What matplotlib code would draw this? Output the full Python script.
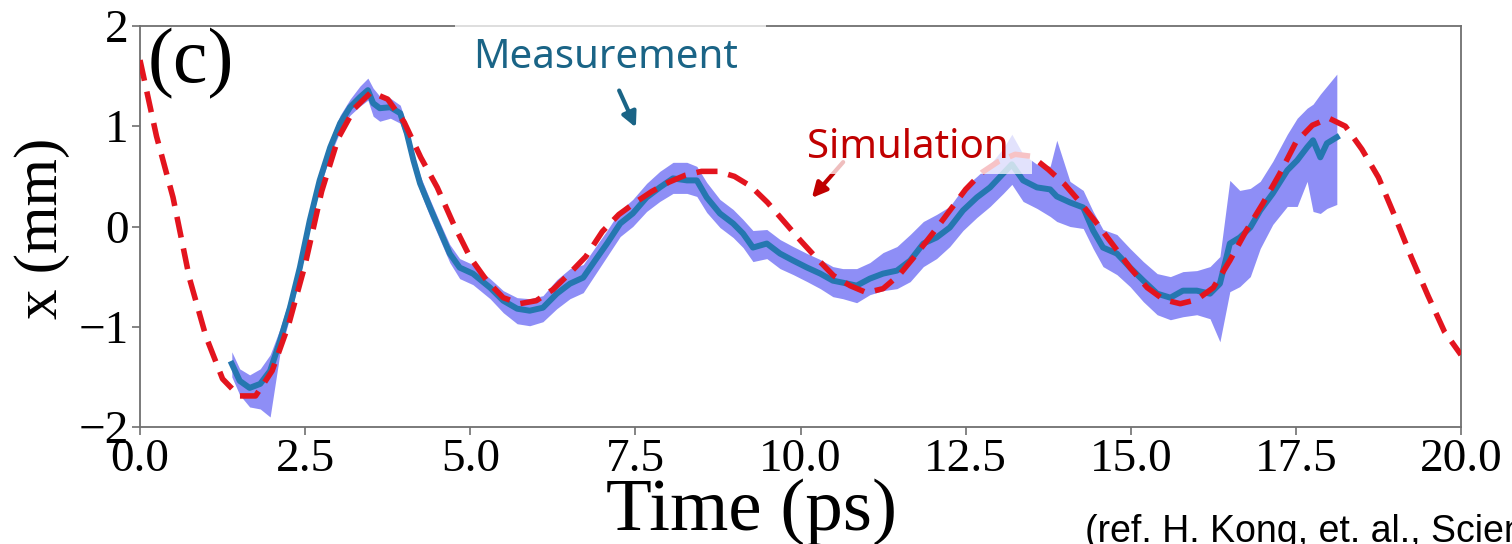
import numpy as np
import matplotlib
matplotlib.use("Agg")
from matplotlib import pyplot as plt
from matplotlib.patches import Rectangle, FancyArrowPatch

sim_t = np.arange(0, 20.01, 0.25)
sim_x = [1.66, 0.90, 0.29, -0.52, -1.10, -1.52, -1.69, -1.69, -1.44, -0.98,
         -0.38, 0.35, 0.88, 1.18, 1.34, 1.27, 1.04, 0.69, 0.39, 0.02,
         -0.31, -0.54, -0.71, -0.77, -0.74, -0.63, -0.47, -0.30, -0.05, 0.12,
         0.24, 0.35, 0.44, 0.51, 0.55, 0.55, 0.50, 0.40, 0.24, 0.05,
         -0.14, -0.32, -0.49, -0.59, -0.66, -0.62, -0.48, -0.28, -0.07, 0.15,
         0.37, 0.54, 0.65, 0.72, 0.70, 0.57, 0.42, 0.23, 0.02, -0.20,
         -0.42, -0.61, -0.73, -0.77, -0.73, -0.61, -0.34, -0.04, 0.23, 0.52,
         0.84, 1.01, 1.08, 1.00, 0.77, 0.49, 0.10, -0.31, -0.69, -1.05, -1.28]

# measurement mean with band limits
meas_t = [1.39, 1.51, 1.66, 1.82, 1.97, 2.12, 2.27, 2.42, 2.57, 2.72,
          2.88, 3.03, 3.18, 3.33, 3.45, 3.53, 3.63, 3.79, 3.94, 4.04,
          4.14, 4.24, 4.39, 4.54, 4.69, 4.84, 5.04, 5.30, 5.50, 5.71,
          5.90, 6.10, 6.31, 6.51, 6.71, 6.92, 7.07, 7.27, 7.46, 7.67,
          7.87, 8.07, 8.28, 8.43, 8.58, 8.78, 8.98, 9.13, 9.28, 9.49,
          9.69, 9.89, 10.10, 10.30, 10.49, 10.64, 10.85, 11.05, 11.25, 11.46,
          11.66, 11.86, 12.06, 12.26, 12.46, 12.67, 12.87, 13.07, 13.20, 13.37,
          13.58, 13.78, 13.88, 14.08, 14.28, 14.43, 14.58, 14.79, 14.99, 15.19,
          15.40, 15.60, 15.79, 16.00, 16.20, 16.35, 16.50, 16.65, 16.81, 16.96,
          17.15, 17.37, 17.52, 17.67, 17.76, 17.87, 17.97, 18.12]
meas_x = [-1.37, -1.54, -1.61, -1.57, -1.44, -1.14, -0.81, -0.41, 0.06, 0.46,
          0.79, 1.03, 1.19, 1.29, 1.36, 1.23, 1.18, 1.19, 1.13, 0.93,
          0.66, 0.43, 0.19, -0.04, -0.27, -0.41, -0.47, -0.61, -0.74, -0.82,
          -0.84, -0.81, -0.67, -0.57, -0.51, -0.31, -0.17, 0.03, 0.13, 0.29,
          0.39, 0.48, 0.46, 0.46, 0.29, 0.13, 0.03, -0.07, -0.21, -0.17,
          -0.27, -0.34, -0.41, -0.47, -0.54, -0.56, -0.59, -0.52, -0.47, -0.44,
          -0.34, -0.17, -0.11, -0.01, 0.16, 0.29, 0.39, 0.53, 0.62, 0.46,
          0.39, 0.37, 0.30, 0.24, 0.19, -0.04, -0.21, -0.27, -0.41, -0.54,
          -0.67, -0.71, -0.64, -0.64, -0.67, -0.57, -0.17, -0.11, -0.01, 0.16,
          0.33, 0.56, 0.66, 0.79, 0.86, 0.69, 0.83, 0.89]
meas_hi = [-1.25, -1.42, -1.48, -1.42, -1.28, -1.02, -0.70, -0.32, 0.14, 0.54,
           0.87, 1.11, 1.27, 1.40, 1.48, 1.38, 1.30, 1.28, 1.21, 1.01,
           0.74, 0.51, 0.27, 0.04, -0.18, -0.32, -0.38, -0.52, -0.64, -0.71,
           -0.72, -0.69, -0.53, -0.42, -0.38, -0.18, -0.04, 0.16, 0.27, 0.43,
           0.55, 0.64, 0.64, 0.60, 0.44, 0.27, 0.17, 0.07, -0.04, -0.03,
           -0.13, -0.20, -0.27, -0.33, -0.40, -0.42, -0.42, -0.36, -0.26, -0.20,
           -0.08, 0.05, 0.12, 0.20, 0.38, 0.50, 0.62, 0.78, 0.92, 0.72,
           0.62, 0.60, 0.86, 0.45, 0.36, 0.15, -0.03, -0.08, -0.22, -0.35,
           -0.47, -0.50, -0.45, -0.44, -0.40, -0.30, 0.46, 0.36, 0.38, 0.45,
           0.65, 0.92, 1.08, 1.18, 1.22, 1.32, 1.40, 1.52]
meas_lo = [-1.50, -1.68, -1.80, -1.82, -1.90, -1.26, -0.90, -0.50, -0.02, 0.38,
           0.71, 0.95, 1.11, 1.20, 1.26, 1.10, 1.05, 1.08, 1.03, 0.85,
           0.58, 0.35, 0.10, -0.13, -0.36, -0.52, -0.58, -0.72, -0.86, -0.97,
           -0.99, -0.95, -0.82, -0.72, -0.66, -0.45, -0.30, -0.10, 0.00, 0.15,
           0.25, 0.33, 0.33, 0.30, 0.14, -0.01, -0.11, -0.21, -0.35, -0.32,
           -0.42, -0.48, -0.55, -0.62, -0.70, -0.72, -0.76, -0.68, -0.64, -0.62,
           -0.55, -0.40, -0.32, -0.20, -0.04, 0.09, 0.20, 0.33, 0.42, 0.25,
           0.18, 0.10, 0.05, 0.00, -0.02, -0.22, -0.40, -0.48, -0.60, -0.75,
           -0.88, -0.93, -0.90, -0.88, -0.92, -1.15, -0.65, -0.60, -0.50, -0.22,
           0.02, 0.20, 0.20, 0.45, 0.15, 0.13, 0.18, 0.22]

xticks = [0, 2.5, 5, 7.5, 10, 12.5, 15, 17.5, 20]
yticks = [-2, -1, 0, 1, 2]

serif = "Liberation Serif"

fig = plt.figure(figsize=(15.12, 5.44), dpi=100)
ax = fig.add_axes([140 / 1512, 1 - 427 / 544, 1321 / 1512, 401 / 544])

ax.fill_between(meas_t, meas_lo, meas_hi, color="#8e8ef6", lw=0, zorder=1)
ax.plot(meas_t, meas_x, color="#2577b0", lw=4.3, zorder=2)
ax.plot(sim_t, sim_x, color="#e3141e", lw=4.0, dashes=(3.8, 2.0), zorder=3)

ax.set_xlim(0, 20)
ax.set_ylim(-2, 2)
ax.set_xticks(xticks)
ax.set_xticklabels([f"{v:.1f}" for v in xticks])
ax.set_yticks(yticks)
ax.set_yticklabels([str(v).replace("-", "\u2212") for v in yticks])
for s in ax.spines.values():
    s.set_color("#707070")
    s.set_linewidth(1.3)
ax.tick_params(length=6, width=1.2, color="#707070", labelsize=34, pad=2)
for lab in ax.get_xticklabels() + ax.get_yticklabels():
    lab.set_fontfamily(serif)

fig.text(42 / 1512, 1 - 228 / 544, "x (mm)", rotation=90, ha="center", va="center",
         fontsize=44, family=serif)
fig.text(752 / 1512, 1 - 530 / 544, "Time (ps)", ha="center", va="baseline",
         fontsize=54, family=serif)
fig.text(148 / 1512, 1 - 64 / 544, "(c)", ha="left", va="center", fontsize=56, family=serif)

# arrows, then translucent white boxes, then labels
fig.add_artist(FancyArrowPatch((618 / 1512, 1 - 88 / 544), (637 / 1512, 1 - 130 / 544),
                               transform=fig.transFigure, arrowstyle="-|>", mutation_scale=22,
                               color="#1a6486", lw=3, zorder=1.5))
fig.add_artist(FancyArrowPatch((845 / 1512, 1 - 160 / 544), (810 / 1512, 1 - 200 / 544),
                               transform=fig.transFigure, arrowstyle="-|>", mutation_scale=22,
                               color="#c00000", lw=3, zorder=1.5))
fig.add_artist(Rectangle((455 / 1512, 1 - 82 / 544), 311 / 1512, 82 / 544,
                         transform=fig.transFigure, color="white", alpha=0.75, lw=0, zorder=2))
fig.add_artist(Rectangle((800 / 1512, 1 - 174 / 544), 232 / 1512, 56 / 544,
                         transform=fig.transFigure, color="white", alpha=0.75, lw=0, zorder=2))

fig.text(606 / 1512, 1 - 68 / 544, "Measurement", ha="center", va="baseline",
         fontsize=29, color="#1a6486", family="Noto Sans", zorder=3)
fig.text(908 / 1512, 1 - 158 / 544, "Simulation", ha="center", va="baseline",
         fontsize=29, color="#c00000", family="Noto Sans", zorder=3)
fig.text(1085 / 1512, 1 - 514 / 544, "(ref. H. Kong, et. al., Science", ha="left", va="top",
         fontsize=27, color="black", family="Liberation Sans")

fig.savefig("out.png", dpi=100)
